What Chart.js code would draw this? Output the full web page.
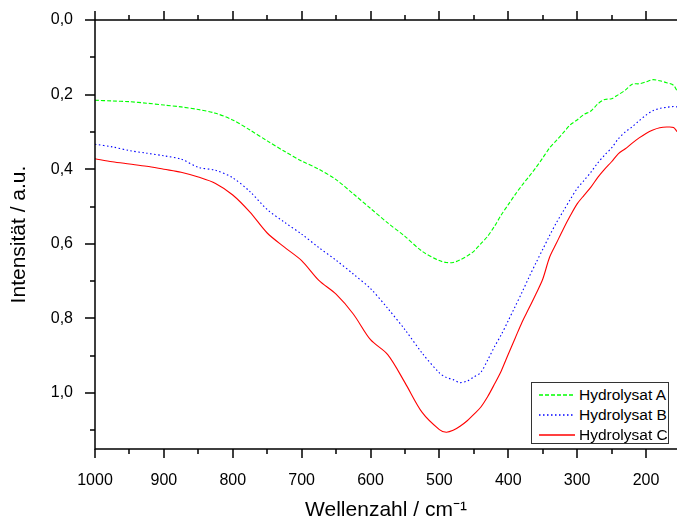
<!DOCTYPE html>
<html>
<head>
<meta charset="utf-8">
<script src="https://cdn.jsdelivr.net/npm/chart.js@4"></script>
<style>
    body { margin: 0; background: #fff; }
    #wrap { position: relative; width: 677px; height: 526px; }
    #legend {
        position: absolute; left: 531px; top: 382px; width: 136px; height: 60px;
        border: 1px solid #333; background: #fff;
        font: 15.5px 'Liberation Sans', Arial, sans-serif; color: #000;
    }
    #legend .row { position: absolute; left: 0; height: 20px; line-height: 20px; white-space: nowrap; }
    #legend svg { position: absolute; left: 7px; top: 0; }
    #legend span { position: absolute; left: 47px; top: 0; }
</style>
</head>
<body>
<div id="wrap">
    <canvas id="spectra" width="677" height="526"></canvas>
    <div id="legend"></div>
</div>
<script>
Chart.defaults.font.family = "'Liberation Sans', Arial, sans-serif";
Chart.defaults.color = "#000";

const wavenumbers = [1000, 975, 950, 925, 900, 875, 850, 825, 800, 775, 750, 725, 700, 675, 650, 625, 600, 575, 550, 525,
    500, 490, 480, 470, 460, 450, 440, 430, 420, 410, 400, 390, 380, 370, 360, 350, 340, 330, 320, 310,
    300, 290, 280, 270, 260, 250, 240, 230, 220, 210, 200, 190, 180, 170, 160, 155];

const hydrolysatA = [0.215, 0.217, 0.219, 0.223, 0.228, 0.233, 0.240, 0.250, 0.268, 0.295, 0.324, 0.352, 0.378, 0.400, 0.428, 0.466, 0.505, 0.544, 0.580, 0.620,
    0.645, 0.650, 0.650, 0.643, 0.633, 0.620, 0.600, 0.580, 0.553, 0.522, 0.495, 0.468, 0.443, 0.420, 0.396, 0.370, 0.343, 0.323, 0.302, 0.281,
    0.268, 0.253, 0.244, 0.225, 0.213, 0.211, 0.200, 0.188, 0.172, 0.171, 0.166, 0.160, 0.163, 0.168, 0.175, 0.190];

const hydrolysatB = [0.333, 0.340, 0.350, 0.357, 0.364, 0.373, 0.395, 0.403, 0.423, 0.460, 0.508, 0.542, 0.574, 0.610, 0.644, 0.681, 0.720, 0.773, 0.830, 0.893,
    0.946, 0.958, 0.964, 0.972, 0.968, 0.957, 0.945, 0.912, 0.876, 0.843, 0.806, 0.768, 0.730, 0.690, 0.652, 0.615, 0.578, 0.543, 0.512, 0.481,
    0.452, 0.430, 0.408, 0.383, 0.362, 0.343, 0.318, 0.300, 0.286, 0.270, 0.255, 0.243, 0.237, 0.234, 0.232, 0.233];

const hydrolysatC = [0.372, 0.380, 0.386, 0.392, 0.400, 0.408, 0.421, 0.438, 0.469, 0.515, 0.571, 0.609, 0.645, 0.698, 0.735, 0.788, 0.857, 0.897, 0.972, 1.052,
    1.098, 1.105, 1.100, 1.089, 1.075, 1.057, 1.038, 1.010, 0.976, 0.940, 0.896, 0.853, 0.810, 0.773, 0.735, 0.695, 0.636, 0.598, 0.560, 0.525,
    0.493, 0.470, 0.448, 0.422, 0.400, 0.380, 0.358, 0.345, 0.330, 0.316, 0.304, 0.295, 0.289, 0.287, 0.288, 0.299];

const seriesLabels = ["Hydrolysat A", "Hydrolysat B", "Hydrolysat C"];
const seriesColors = ["#00ff00", "#0000ff", "#ff0000"];
const seriesDashes = [[4, 2], [1.5, 2.5], []];

function toPoints(values) {
    return values.map((v, i) => ({ x: wavenumbers[i], y: v }));
}

function makeDataset(i, values) {
    return {
        label: seriesLabels[i],
        data: toPoints(values),
        borderColor: seriesColors[i],
        borderWidth: 1.1,
        borderDash: seriesDashes[i],
        pointRadius: 0,
        tension: 0.3,
        fill: false,
    };
}

// html legend in the lower right corner of the plot
const legend = document.getElementById("legend");
seriesLabels.forEach((label, i) => {
    const row = document.createElement("div");
    row.className = "row";
    row.style.top = (2 + i * 20) + "px";
    row.innerHTML =
        '<svg width="36" height="20"><line x1="0" y1="10" x2="36" y2="10" stroke="' + seriesColors[i] +
        '" stroke-width="1.5" stroke-dasharray="' + (seriesDashes[i].join(" ") || "none") + '"/></svg>' +
        "<span>" + label + "</span>";
    legend.appendChild(row);
});

// frame with major/minor ticks
const framePlugin = {
    id: "frame",
    afterDraw(chart) {
        const ctx = chart.ctx;
        const area = chart.chartArea;
        const xs = chart.scales.x;
        const ys = chart.scales.y;
        ctx.save();
        ctx.strokeStyle = "#000";
        ctx.lineWidth = 1.5;
        ctx.beginPath();
        ctx.moveTo(area.left, area.top);
        ctx.lineTo(area.right, area.top);
        ctx.moveTo(area.left, area.top);
        ctx.lineTo(area.left, area.bottom);
        ctx.lineTo(area.right, area.bottom);
        ctx.stroke();

        ctx.beginPath();
        xs.ticks.forEach(t => {
            const px = Math.round(xs.getPixelForValue(t.value));
            const len = t.value % 100 === 0 ? 9 : 5;
            ctx.moveTo(px, area.bottom);
            ctx.lineTo(px, area.bottom + len);
            ctx.moveTo(px, area.top);
            ctx.lineTo(px, area.top - len);
        });
        ys.ticks.forEach(t => {
            const py = Math.round(ys.getPixelForValue(t.value));
            const len = Math.round(t.value * 10) % 2 === 0 ? 10 : 5;
            ctx.moveTo(area.left, py);
            ctx.lineTo(area.left - len, py);
        });
        ctx.stroke();
        ctx.restore();
    },
};

new Chart(document.getElementById("spectra"), {
    type: "line",
    data: {
        datasets: [
            makeDataset(0, hydrolysatA),
            makeDataset(1, hydrolysatB),
            makeDataset(2, hydrolysatC),
        ],
    },
    options: {
        responsive: false,
        animation: false,
        devicePixelRatio: 1,
        layout: {
            padding: { top: 20, right: 0, left: 0, bottom: 0 },
        },
        plugins: {
            legend: { display: false },
            tooltip: { enabled: false },
        },
        scales: {
            x: {
                type: "linear",
                reverse: true,
                min: 155,
                max: 1000,
                grid: { display: false },
                border: { display: false },
                ticks: {
                    stepSize: 50,
                    includeBounds: false,
                    autoSkip: false,
                    maxRotation: 0,
                    padding: 14,
                    font: { size: 16 },
                    callback: v => (v % 100 === 0 ? String(v) : ""),
                },
                title: {
                    display: true,
                    text: "Wellenzahl / cm⁻¹",
                    font: { size: 21 },
                    padding: { top: 0, bottom: 3 },
                },
                afterFit(scale) {
                    scale.height = 77;
                    scale.paddingLeft = 0;
                    scale.paddingRight = 0;
                },
            },
            y: {
                reverse: true,
                min: 0,
                max: 1.15,
                grid: { display: false },
                border: { display: false },
                ticks: {
                    stepSize: 0.1,
                    includeBounds: false,
                    autoSkip: false,
                    padding: 14,
                    font: { size: 16 },
                    callback: v => (Math.round(v * 10) % 2 === 0 ? v.toFixed(1).replace(".", ",") : ""),
                },
                title: {
                    display: true,
                    text: "Intensität / a.u.",
                    font: { size: 21 },
                    padding: { top: 7, bottom: 0 },
                },
                afterFit(scale) {
                    scale.width = 95;
                    scale.paddingTop = 0;
                    scale.paddingBottom = 0;
                },
            },
        },
    },
    plugins: [framePlugin],
});
</script>
</body>
</html>
